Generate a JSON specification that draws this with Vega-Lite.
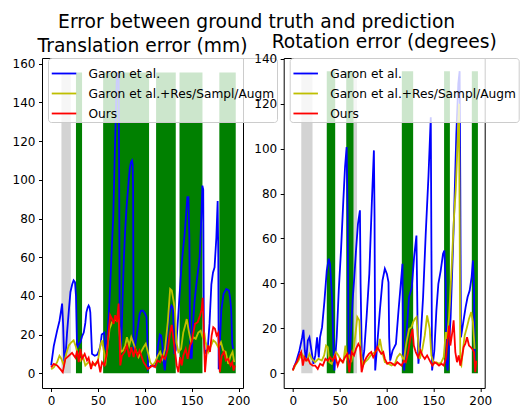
{
"$schema": "https://vega.github.io/schema/vega-lite/v6.json",
"background": "white",
"padding": {"left": 11, "top": 13, "right": 0, "bottom": 0},
"title": {"text": "Error between ground truth and prediction", "anchor": "middle", "fontSize": 18.7, "fontWeight": "normal", "color": "#000000", "font": "DejaVu Sans", "offset": 0, "dx": -9},
"datasets": {
"t_bands": [
{"kind": "gray", "start": 11, "end": 21, "lo": 0, "hi": 155.5},
{"kind": "green", "start": 26.5, "end": 33, "lo": 0, "hi": 155.5},
{"kind": "green", "start": 55.5, "end": 104.5, "lo": 0, "hi": 155.5},
{"kind": "green", "start": 112, "end": 133, "lo": 0, "hi": 155.5},
{"kind": "green", "start": 137, "end": 161.5, "lo": 0, "hi": 155.5},
{"kind": "green", "start": 179.5, "end": 197, "lo": 0, "hi": 155.5}
],
"r_bands": [
{"kind": "gray", "start": 9, "end": 21, "lo": 0, "hi": 134.5},
{"kind": "gray", "start": 64.8, "end": 68.5, "lo": 0, "hi": 134.5},
{"kind": "green", "start": 36.2, "end": 45.2, "lo": 0, "hi": 134.5},
{"kind": "green", "start": 57, "end": 64.8, "lo": 0, "hi": 134.5},
{"kind": "green", "start": 116.3, "end": 128.4, "lo": 0, "hi": 134.5},
{"kind": "green", "start": 161.4, "end": 167.6, "lo": 0, "hi": 134.5},
{"kind": "green", "start": 191, "end": 197.5, "lo": 0, "hi": 134.5}
],
"t_garon": [
{"frame":0,"error":4},{"frame":2.8,"error":14},{"frame":6.4,"error":22},{"frame":8.9,"error":27},{"frame":10.5,"error":32},{"frame":11.7,"error":36},{"frame":12.8,"error":25},{"frame":14,"error":6},{"frame":15.5,"error":10},{"frame":17,"error":21},{"frame":19,"error":33},{"frame":20.6,"error":42},{"frame":22.5,"error":46},{"frame":24,"error":48},{"frame":25.5,"error":47},{"frame":26.5,"error":40},{"frame":27.7,"error":13},{"frame":29.5,"error":15},{"frame":31.2,"error":16},{"frame":33,"error":19},{"frame":34.8,"error":21},{"frame":36.5,"error":26},{"frame":37.6,"error":31.5},{"frame":39,"error":34},{"frame":40,"error":35},{"frame":41,"error":34},{"frame":41.8,"error":31.5},{"frame":42.8,"error":20},{"frame":43.6,"error":10},{"frame":46.5,"error":9},{"frame":49,"error":9.5},{"frame":50.5,"error":11},{"frame":52.5,"error":14},{"frame":54,"error":20},{"frame":55.5,"error":20.5},{"frame":56.7,"error":21},{"frame":57.8,"error":13.5},{"frame":59,"error":11.7},{"frame":60.5,"error":22},{"frame":62,"error":35},{"frame":62.8,"error":43},{"frame":64.5,"error":62},{"frame":66.3,"error":81},{"frame":68,"error":115},{"frame":69.9,"error":150},{"frame":70.6,"error":155},{"frame":72,"error":155},{"frame":72.6,"error":100},{"frame":73.3,"error":12},{"frame":74.5,"error":12},{"frame":75.5,"error":25},{"frame":77,"error":50},{"frame":77.7,"error":60},{"frame":79,"error":74},{"frame":80.5,"error":86},{"frame":82,"error":95},{"frame":83,"error":101},{"frame":84,"error":106},{"frame":85.1,"error":109},{"frame":86.3,"error":110},{"frame":87,"error":108},{"frame":87.5,"error":95},{"frame":88,"error":12},{"frame":89.4,"error":13.5},{"frame":90.5,"error":17},{"frame":92,"error":22},{"frame":93,"error":25.5},{"frame":94.5,"error":30.7},{"frame":96,"error":32.4},{"frame":98,"error":32.4},{"frame":100,"error":31},{"frame":101.8,"error":29},{"frame":102.5,"error":20},{"frame":103.5,"error":2},{"frame":105,"error":3},{"frame":107,"error":4},{"frame":109,"error":3.5},{"frame":111,"error":4},{"frame":112.8,"error":7.4},{"frame":114,"error":14},{"frame":115,"error":17},{"frame":116,"error":20},{"frame":117.4,"error":19.5},{"frame":118.8,"error":14},{"frame":120,"error":6},{"frame":121.3,"error":1.5},{"frame":122.5,"error":8},{"frame":124,"error":20},{"frame":125.5,"error":28},{"frame":127,"error":33},{"frame":128.5,"error":35},{"frame":130,"error":34},{"frame":131,"error":20},{"frame":131.6,"error":10},{"frame":133,"error":12},{"frame":135,"error":25},{"frame":137,"error":40},{"frame":139,"error":54.8},{"frame":141,"error":65},{"frame":142.5,"error":72},{"frame":144,"error":82},{"frame":145.4,"error":91},{"frame":146.5,"error":91},{"frame":147.5,"error":70},{"frame":148.2,"error":20},{"frame":149,"error":8},{"frame":150,"error":8},{"frame":151.4,"error":25.5},{"frame":153,"error":37},{"frame":155,"error":46},{"frame":157,"error":54},{"frame":158.5,"error":60},{"frame":160.3,"error":80.7},{"frame":161.4,"error":97},{"frame":162.3,"error":95},{"frame":163,"error":20},{"frame":164,"error":10},{"frame":165.6,"error":11.7},{"frame":167,"error":12},{"frame":169,"error":25.5},{"frame":171,"error":46},{"frame":172.7,"error":52},{"frame":174.4,"error":54.8},{"frame":176.3,"error":70},{"frame":177.7,"error":89},{"frame":178.4,"error":60},{"frame":178.8,"error":2},{"frame":180,"error":15},{"frame":181.6,"error":32.4},{"frame":184,"error":41},{"frame":186.9,"error":43.6},{"frame":189.7,"error":42.8},{"frame":191,"error":39},{"frame":192.2,"error":32.4},{"frame":193.3,"error":15.2},{"frame":194.3,"error":12.6}
],
"t_aug": [
{"frame":0,"error":2},{"frame":2.8,"error":3},{"frame":6.4,"error":5.7},{"frame":8.9,"error":9},{"frame":11,"error":7.4},{"frame":13.5,"error":4},{"frame":16,"error":10},{"frame":18.8,"error":14.3},{"frame":21.6,"error":16},{"frame":24,"error":17},{"frame":26.6,"error":13.4},{"frame":28.7,"error":9},{"frame":31.2,"error":6.6},{"frame":33.7,"error":9},{"frame":36.5,"error":4},{"frame":40,"error":5.7},{"frame":43.6,"error":4},{"frame":47,"error":4.8},{"frame":50,"error":6.6},{"frame":52.5,"error":14.3},{"frame":54.3,"error":17},{"frame":56.4,"error":11},{"frame":57.8,"error":4},{"frame":60.3,"error":14.3},{"frame":62.4,"error":23},{"frame":65,"error":26.4},{"frame":67.7,"error":27.2},{"frame":70.2,"error":28},{"frame":72,"error":28},{"frame":74.5,"error":11},{"frame":76.6,"error":11.7},{"frame":79,"error":14.3},{"frame":80.9,"error":18.6},{"frame":83.3,"error":14.3},{"frame":85.5,"error":18.6},{"frame":88,"error":15.2},{"frame":90.4,"error":11.7},{"frame":93.3,"error":8.3},{"frame":96,"error":11},{"frame":98.6,"error":13.4},{"frame":101,"error":15.2},{"frame":103.2,"error":11},{"frame":105.7,"error":5.7},{"frame":108.2,"error":4},{"frame":111,"error":5.7},{"frame":113.8,"error":9},{"frame":116.3,"error":11},{"frame":118.8,"error":7.4},{"frame":121.6,"error":12.6},{"frame":124.5,"error":26.4},{"frame":127,"error":43.6},{"frame":128.7,"error":42.8},{"frame":130.9,"error":36.7},{"frame":132.3,"error":31.5},{"frame":133.7,"error":16},{"frame":135.8,"error":11},{"frame":138.7,"error":12.6},{"frame":141,"error":21},{"frame":143,"error":24.7},{"frame":144.7,"error":28},{"frame":147.2,"error":21},{"frame":149.3,"error":16},{"frame":151.8,"error":18.6},{"frame":154.3,"error":17.8},{"frame":157,"error":21},{"frame":159.6,"error":22},{"frame":161.7,"error":18.6},{"frame":163.5,"error":21},{"frame":164.9,"error":16},{"frame":167.7,"error":11},{"frame":170.6,"error":14.3},{"frame":173,"error":17},{"frame":175.5,"error":16},{"frame":178.4,"error":13.4},{"frame":181.2,"error":16},{"frame":183.7,"error":11.7},{"frame":186.2,"error":11},{"frame":189,"error":4.8},{"frame":191.5,"error":9},{"frame":193.6,"error":11},{"frame":195.4,"error":5.7}
],
"t_ours": [
{"frame":0,"error":3},{"frame":2.8,"error":4.8},{"frame":6.4,"error":4},{"frame":10,"error":2},{"frame":12.4,"error":0.5},{"frame":15.2,"error":7.4},{"frame":18.8,"error":9},{"frame":22.3,"error":10.5},{"frame":26,"error":8},{"frame":27.7,"error":11.7},{"frame":29.4,"error":5.7},{"frame":31.2,"error":12.6},{"frame":33,"error":7.4},{"frame":35.8,"error":10},{"frame":38.3,"error":6.6},{"frame":40,"error":8},{"frame":42.6,"error":2.2},{"frame":44.3,"error":5.7},{"frame":47,"error":4},{"frame":50,"error":6.6},{"frame":52.5,"error":0.5},{"frame":54.3,"error":5.7},{"frame":57,"error":4},{"frame":59.6,"error":10.9},{"frame":61.3,"error":21},{"frame":63,"error":30},{"frame":65,"error":28},{"frame":66.7,"error":25.5},{"frame":68.4,"error":30},{"frame":70.2,"error":26.4},{"frame":72,"error":36},{"frame":73.8,"error":4},{"frame":75.5,"error":9},{"frame":78.4,"error":11},{"frame":80.9,"error":14.3},{"frame":83.3,"error":8.3},{"frame":85.5,"error":13.4},{"frame":88,"error":8.3},{"frame":89.7,"error":12.6},{"frame":92.2,"error":9},{"frame":94.3,"error":11.7},{"frame":96.8,"error":8.3},{"frame":98.6,"error":5.7},{"frame":101,"error":4},{"frame":103.2,"error":2.2},{"frame":105.7,"error":3.1},{"frame":108.2,"error":4},{"frame":111,"error":3.1},{"frame":113.5,"error":6.6},{"frame":116.3,"error":5.7},{"frame":118.8,"error":9},{"frame":121.6,"error":7.4},{"frame":124.5,"error":12.6},{"frame":127,"error":21},{"frame":128.7,"error":25},{"frame":130.5,"error":17.8},{"frame":132.3,"error":11},{"frame":134,"error":4},{"frame":135.8,"error":0.5},{"frame":137.6,"error":8.3},{"frame":139.4,"error":4},{"frame":141,"error":9},{"frame":143.6,"error":12.6},{"frame":145.7,"error":7.4},{"frame":148.2,"error":14.3},{"frame":150,"error":16},{"frame":151.8,"error":21},{"frame":153.5,"error":25.5},{"frame":156.4,"error":26.4},{"frame":158.9,"error":29.8},{"frame":160.6,"error":33},{"frame":161.7,"error":39},{"frame":163.5,"error":12.6},{"frame":164.2,"error":0.5},{"frame":166,"error":11},{"frame":167.7,"error":14.3},{"frame":169.5,"error":11},{"frame":171.3,"error":19.5},{"frame":173,"error":23.8},{"frame":174.8,"error":23},{"frame":176.6,"error":19.5},{"frame":178.4,"error":21},{"frame":180,"error":0.5},{"frame":182,"error":9},{"frame":184.4,"error":11},{"frame":186.5,"error":6.6},{"frame":189,"error":7.4},{"frame":191.5,"error":4},{"frame":193.3,"error":5.7},{"frame":194.7,"error":1.4},{"frame":196,"error":4}
],
"r_garon": [
{"frame":0,"error":1.5},{"frame":3.5,"error":5},{"frame":7,"error":10},{"frame":10,"error":16},{"frame":11.3,"error":19.3},{"frame":12.8,"error":10},{"frame":14.2,"error":5.6},{"frame":16,"error":14.6},{"frame":17.7,"error":16},{"frame":19.9,"error":10},{"frame":22,"error":4.2},{"frame":24,"error":8},{"frame":25.9,"error":16},{"frame":27.7,"error":7},{"frame":29,"error":16},{"frame":31.2,"error":20.5},{"frame":33.7,"error":32},{"frame":36.2,"error":45.7},{"frame":38.3,"error":51},{"frame":39.7,"error":48.7},{"frame":41.8,"error":33.9},{"frame":43.3,"error":11.6},{"frame":44.3,"error":1.2},{"frame":46.8,"error":16},{"frame":49,"error":36.8},{"frame":51.4,"error":54.6},{"frame":53.9,"error":77},{"frame":55.7,"error":91.8},{"frame":57.4,"error":100.7},{"frame":58.5,"error":69.5},{"frame":59.6,"error":5.6},{"frame":60.3,"error":1.2},{"frame":62,"error":17.5},{"frame":63.8,"error":32.4},{"frame":65.6,"error":42.8},{"frame":67.4,"error":54.6},{"frame":69.5,"error":66.5},{"frame":71.6,"error":72.5},{"frame":72.3,"error":39.8},{"frame":73.8,"error":2.7},{"frame":76.2,"error":10},{"frame":78.7,"error":25},{"frame":81.6,"error":44.2},{"frame":84.4,"error":77},{"frame":86.5,"error":99.2},{"frame":87.2,"error":69.5},{"frame":87.9,"error":1.2},{"frame":90.4,"error":14.6},{"frame":92.9,"error":28},{"frame":95.7,"error":41.3},{"frame":98.2,"error":46.5},{"frame":100.4,"error":44.2},{"frame":102.1,"error":40.5},{"frame":102.8,"error":16},{"frame":103.9,"error":5.6},{"frame":106.4,"error":10},{"frame":110,"error":13},{"frame":112.8,"error":28},{"frame":115.2,"error":39.8},{"frame":117,"error":48.7},{"frame":117.7,"error":10},{"frame":118.8,"error":1.2},{"frame":121.3,"error":17.5},{"frame":124,"error":33.9},{"frame":127,"error":38.3},{"frame":129.4,"error":51.7},{"frame":131.9,"error":61.3},{"frame":133,"error":25},{"frame":134,"error":4.2},{"frame":136.5,"error":16},{"frame":139,"error":33.9},{"frame":141.8,"error":62},{"frame":144.7,"error":87.3},{"frame":147.2,"error":114},{"frame":147.9,"error":54.6},{"frame":148.6,"error":1.2},{"frame":151,"error":10},{"frame":153.2,"error":28},{"frame":155.3,"error":39.8},{"frame":157.8,"error":45.7},{"frame":160.3,"error":53.2},{"frame":161.7,"error":54.6},{"frame":163.1,"error":39.8},{"frame":163.8,"error":5.6},{"frame":165.2,"error":1.2},{"frame":168.4,"error":25},{"frame":172,"error":69.5},{"frame":174.5,"error":106.6},{"frame":176.6,"error":129},{"frame":178,"error":134.5},{"frame":178.7,"error":84.3},{"frame":179.4,"error":16},{"frame":181.6,"error":22},{"frame":184.4,"error":29.4},{"frame":186.5,"error":33.9},{"frame":188.7,"error":36.8},{"frame":190.8,"error":42.8},{"frame":192.2,"error":50.2},{"frame":193.3,"error":39.8},{"frame":194.3,"error":1.2}
],
"r_aug": [
{"frame":0,"error":1.2},{"frame":2.5,"error":3.4},{"frame":6,"error":5.6},{"frame":9.6,"error":8.6},{"frame":12,"error":7},{"frame":15,"error":5.6},{"frame":17.8,"error":8.6},{"frame":20.2,"error":6.4},{"frame":23.8,"error":4.9},{"frame":27.3,"error":6.4},{"frame":30.9,"error":5.6},{"frame":33.4,"error":7.9},{"frame":35.5,"error":12.3},{"frame":37.3,"error":11.6},{"frame":39,"error":4.9},{"frame":41.5,"error":4.2},{"frame":43.3,"error":6.4},{"frame":46.1,"error":9.4},{"frame":48.6,"error":7.9},{"frame":51.1,"error":5.6},{"frame":53.9,"error":4.9},{"frame":56.1,"error":12.3},{"frame":57.5,"error":6.4},{"frame":60,"error":7.9},{"frame":62.4,"error":4.9},{"frame":64.9,"error":10.8},{"frame":67.1,"error":18.3},{"frame":68.8,"error":25},{"frame":71,"error":23.5},{"frame":72.3,"error":10.8},{"frame":74.5,"error":3.4},{"frame":77,"error":4.9},{"frame":80.5,"error":6.4},{"frame":83,"error":7.9},{"frame":85,"error":8.6},{"frame":87.6,"error":9.4},{"frame":91.2,"error":10.8},{"frame":92.9,"error":15.3},{"frame":95.4,"error":9.4},{"frame":98.2,"error":4.9},{"frame":101.8,"error":4.2},{"frame":105.4,"error":3.4},{"frame":108.9,"error":4.2},{"frame":111.4,"error":7.1},{"frame":114.2,"error":8.6},{"frame":116,"error":7.9},{"frame":118.5,"error":5.6},{"frame":121.3,"error":13.8},{"frame":124.1,"error":19.7},{"frame":126.6,"error":20.5},{"frame":128.4,"error":22.7},{"frame":130.2,"error":24.2},{"frame":132,"error":25},{"frame":133.7,"error":13.8},{"frame":135.5,"error":6.4},{"frame":138.3,"error":10.8},{"frame":140.8,"error":16.8},{"frame":143.3,"error":25.7},{"frame":146.1,"error":19.7},{"frame":147.8,"error":7.9},{"frame":150.4,"error":4.2},{"frame":153.2,"error":4.9},{"frame":156,"error":4.2},{"frame":158.5,"error":4.9},{"frame":161,"error":7.1},{"frame":163.2,"error":18.3},{"frame":164.6,"error":15.3},{"frame":166.7,"error":25},{"frame":169.5,"error":47.2},{"frame":172,"error":69.5},{"frame":173.8,"error":81.4},{"frame":175.5,"error":99.2},{"frame":177.3,"error":120},{"frame":178,"error":69.5},{"frame":178.7,"error":4.2},{"frame":179.8,"error":3.4},{"frame":181.6,"error":10.8},{"frame":183.4,"error":16.8},{"frame":185.8,"error":20.5},{"frame":188,"error":24.2},{"frame":190.4,"error":27.2},{"frame":192.2,"error":22.7},{"frame":194,"error":10.8}
],
"r_ours": [
{"frame":0,"error":1.2},{"frame":1.8,"error":3.4},{"frame":4.3,"error":4.9},{"frame":7.1,"error":7.9},{"frame":8.9,"error":9.4},{"frame":10.7,"error":3.4},{"frame":12.4,"error":7.1},{"frame":14.2,"error":5.6},{"frame":16.3,"error":6.4},{"frame":18.5,"error":4.2},{"frame":21.3,"error":3.4},{"frame":23.8,"error":3.4},{"frame":26.6,"error":1.9},{"frame":29.1,"error":4.2},{"frame":32,"error":3.4},{"frame":34.8,"error":6.4},{"frame":37.3,"error":5.6},{"frame":39.8,"error":7.1},{"frame":42.6,"error":5.6},{"frame":45.1,"error":7.9},{"frame":47.9,"error":3.4},{"frame":50.4,"error":6.4},{"frame":53.2,"error":4.9},{"frame":55.7,"error":7.1},{"frame":58.2,"error":8.6},{"frame":60.3,"error":0.4},{"frame":62.8,"error":9.4},{"frame":65.3,"error":7.9},{"frame":67.4,"error":10.8},{"frame":69.9,"error":13.1},{"frame":71.7,"error":11.6},{"frame":73.4,"error":0.4},{"frame":75.9,"error":4.9},{"frame":78.7,"error":7.1},{"frame":81.2,"error":8.6},{"frame":83.7,"error":9.4},{"frame":85.8,"error":7.1},{"frame":87.6,"error":8.6},{"frame":90.1,"error":11.6},{"frame":92.2,"error":10.1},{"frame":94.4,"error":8.6},{"frame":96.5,"error":9.4},{"frame":98.2,"error":6.4},{"frame":100.7,"error":4.2},{"frame":103.6,"error":4.9},{"frame":106.4,"error":4.2},{"frame":108.9,"error":3.4},{"frame":111.4,"error":4.9},{"frame":113.5,"error":4.2},{"frame":116,"error":3.4},{"frame":118.5,"error":5.6},{"frame":120.6,"error":4.9},{"frame":123.1,"error":9.4},{"frame":125.6,"error":16},{"frame":127.7,"error":19.7},{"frame":129.1,"error":12.3},{"frame":131.2,"error":9.4},{"frame":133.7,"error":7.1},{"frame":136.2,"error":10.1},{"frame":138.3,"error":7.9},{"frame":140.8,"error":6.4},{"frame":143.3,"error":7.9},{"frame":146.1,"error":5.6},{"frame":148.9,"error":3.4},{"frame":151.4,"error":4.9},{"frame":153.9,"error":4.2},{"frame":156,"error":3.4},{"frame":158.5,"error":4.2},{"frame":161,"error":3.4},{"frame":163.2,"error":6.4},{"frame":164.9,"error":13.8},{"frame":166.7,"error":21.2},{"frame":168.1,"error":12.3},{"frame":170.2,"error":18.3},{"frame":171.6,"error":23.5},{"frame":173.4,"error":9.4},{"frame":175.2,"error":4.9},{"frame":177,"error":7.9},{"frame":178.8,"error":3.4},{"frame":180.5,"error":7.1},{"frame":182.3,"error":11.6},{"frame":184.1,"error":13.1},{"frame":185.9,"error":16},{"frame":188,"error":12.3},{"frame":189.8,"error":11.6},{"frame":191.5,"error":10.8},{"frame":193.3,"error":9.4},{"frame":194.7,"error":0.4},{"frame":195.7,"error":5.6}
]
},
"spacing": 40.7,
"bounds": "flush",
"resolve": {"scale": {"x": "independent", "y": "independent", "stroke": "independent"}, "legend": {"stroke": "independent"}},
"hconcat": [
{
"width": 201, "height": 330,
"title": {"text": "Translation error (mm)", "offset": 1.5},
"layer": [
{"data": {"name": "t_bands"}, "transform": [{"filter": "datum.kind === 'gray'"}], "mark": {"type": "rect", "color": "#d3d3d3"},
 "encoding": {"x": {"field": "start", "type": "quantitative", "title": null, "scale": {"domain": [-9.75, 204.75], "nice": false, "zero": false}, "axis": {"values": [0, 50, 100, 150, 200]}}, "x2": {"field": "end"},
 "y": {"field": "lo", "type": "quantitative", "title": null, "scale": {"domain": [-7.65, 163], "nice": false, "zero": false}, "axis": {"values": [0, 20, 40, 60, 80, 100, 120, 140, 160]}}, "y2": {"field": "hi"}}},
{"data": {"name": "t_bands"}, "transform": [{"filter": "datum.kind === 'green'"}], "mark": {"type": "rect", "color": "#008000"},
 "encoding": {"x": {"field": "start", "type": "quantitative", "title": null}, "x2": {"field": "end"}, "y": {"field": "lo", "type": "quantitative", "title": null}, "y2": {"field": "hi"}}},
{"data": {"name": "t_garon"}, "mark": {"type": "line", "strokeWidth": 1.8},
 "encoding": {"x": {"field": "frame", "type": "quantitative", "title": null}, "y": {"field": "error", "type": "quantitative", "title": null},
 "stroke": {"datum": "Garon et al.", "type": "nominal", "scale": {"domain": ["Garon et al.", "Garon et al.+Res/Sampl/Augm", "Ours"], "range": ["#0000ff", "#bfbf00", "#ff0000"]}, "legend": {"orient": "none", "legendX": 6, "legendY": 0}}}},
{"data": {"name": "t_aug"}, "mark": {"type": "line", "strokeWidth": 1.8},
 "encoding": {"x": {"field": "frame", "type": "quantitative", "title": null}, "y": {"field": "error", "type": "quantitative", "title": null},
 "stroke": {"datum": "Garon et al.+Res/Sampl/Augm", "type": "nominal"}}},
{"data": {"name": "t_ours"}, "mark": {"type": "line", "strokeWidth": 1.8},
 "encoding": {"x": {"field": "frame", "type": "quantitative", "title": null}, "y": {"field": "error", "type": "quantitative", "title": null},
 "stroke": {"datum": "Ours", "type": "nominal"}}}
]
},
{
"width": 201, "height": 330,
"title": {"text": "Rotation error (degrees)", "offset": 1.5},
"layer": [
{"data": {"name": "r_bands"}, "transform": [{"filter": "datum.kind === 'gray'"}], "mark": {"type": "rect", "color": "#d3d3d3"},
 "encoding": {"x": {"field": "start", "type": "quantitative", "title": null, "scale": {"domain": [-9.75, 204.75], "nice": false, "zero": false}, "axis": {"values": [0, 50, 100, 150, 200]}}, "x2": {"field": "end"},
 "y": {"field": "lo", "type": "quantitative", "title": null, "scale": {"domain": [-6.6, 140.35], "nice": false, "zero": false}, "axis": {"values": [0, 20, 40, 60, 80, 100, 120, 140]}}, "y2": {"field": "hi"}}},
{"data": {"name": "r_bands"}, "transform": [{"filter": "datum.kind === 'green'"}], "mark": {"type": "rect", "color": "#008000"},
 "encoding": {"x": {"field": "start", "type": "quantitative", "title": null}, "x2": {"field": "end"}, "y": {"field": "lo", "type": "quantitative", "title": null}, "y2": {"field": "hi"}}},
{"data": {"name": "r_garon"}, "mark": {"type": "line", "strokeWidth": 1.8},
 "encoding": {"x": {"field": "frame", "type": "quantitative", "title": null}, "y": {"field": "error", "type": "quantitative", "title": null},
 "stroke": {"datum": "Garon et al.", "type": "nominal", "scale": {"domain": ["Garon et al.", "Garon et al.+Res/Sampl/Augm", "Ours"], "range": ["#0000ff", "#bfbf00", "#ff0000"]}, "legend": {"orient": "none", "legendX": 6, "legendY": 0}}}},
{"data": {"name": "r_aug"}, "mark": {"type": "line", "strokeWidth": 1.8},
 "encoding": {"x": {"field": "frame", "type": "quantitative", "title": null}, "y": {"field": "error", "type": "quantitative", "title": null},
 "stroke": {"datum": "Garon et al.+Res/Sampl/Augm", "type": "nominal"}}},
{"data": {"name": "r_ours"}, "mark": {"type": "line", "strokeWidth": 1.8},
 "encoding": {"x": {"field": "frame", "type": "quantitative", "title": null}, "y": {"field": "error", "type": "quantitative", "title": null},
 "stroke": {"datum": "Ours", "type": "nominal"}}}
]
}
],
"config": {
 "font": "DejaVu Sans",
 "view": {"stroke": "#000000", "strokeWidth": 1},
 "axis": {"grid": false, "domain": false, "tickColor": "#000000", "tickSize": 3.5, "tickWidth": 1, "labelColor": "#000000", "labelFontSize": 12, "labelPadding": 3.5, "labelFont": "DejaVu Sans", "labelFlush": false, "labelOverlap": false},
 "title": {"fontSize": 18.7, "fontWeight": "normal", "color": "#000000", "font": "DejaVu Sans"},
 "legend": {"title": null, "symbolType": "stroke", "symbolSize": 600, "symbolStrokeWidth": 1.8, "symbolOffset": 0.5, "labelFontSize": 12.2, "labelFont": "DejaVu Sans", "labelColor": "#000000", "labelOffset": 11, "labelLimit": 0, "fillColor": "rgba(255,255,255,0.8)", "strokeColor": "#cccccc", "cornerRadius": 3, "padding": 2, "rowPadding": -3}
}
}
